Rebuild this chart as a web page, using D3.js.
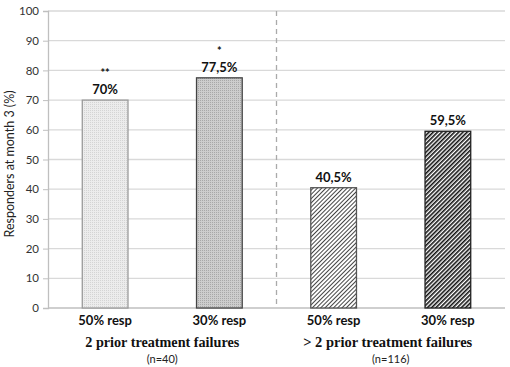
<!DOCTYPE html>
<html><head><meta charset="utf-8">
<script src="https://cdn.jsdelivr.net/npm/d3@7"></script>
<style>body{margin:0;background:#fff}</style>
</head><body>
<svg id="c" width="510" height="367"></svg>
<script>
const categories = ["50% resp", "30% resp", "50% resp", "30% resp"];
const values = [70, 77.5, 40.5, 59.5];
const valueLabels = ["70%", "77,5%", "40,5%", "59,5%"];
const stars = ["**", "*", "", ""];
const groups = ["2 prior treatment failures", ">  2 prior treatment failures"];
const groupN = ["(n=40)", "(n=116)"];
const yTicks = [0,10,20,30,40,50,60,70,80,90,100];

const svg = d3.select("#c");
const defs = svg.append("defs");
function dotPattern(id, bg, fg){
  const p = defs.append("pattern").attr("id", id).attr("patternUnits","userSpaceOnUse").attr("width",2).attr("height",2);
  p.append("rect").attr("width",2).attr("height",2).attr("fill",bg);
  p.append("rect").attr("width",1).attr("height",1).attr("fill",fg);
}
dotPattern("p0", "#ececec", "#d4d4d4");
dotPattern("p1", "#cdcdcd", "#a8a8a8");
function hatch(id, sp, w, col){
  const p = defs.append("pattern").attr("id", id).attr("patternUnits","userSpaceOnUse")
    .attr("width",sp).attr("height",sp).attr("patternTransform","rotate(45)");
  p.append("rect").attr("width",sp).attr("height",sp).attr("fill","#fff");
  p.append("rect").attr("width",w).attr("height",sp).attr("fill",col);
}
hatch("p2", 3, 1, "#444");
hatch("p3", 3, 1.6, "#111");
const fills = ["url(#p0)","url(#p1)","url(#p2)","url(#p3)"];
const strokes = ["#9a9a9a","#444","#555","#222"];

const x0 = 48, x1 = 505, yTop = 11, yBot = 308;
const x = d3.scaleBand().domain(d3.range(categories.length)).range([x0, x1]).paddingInner(0.6).paddingOuter(0.3);
const y = d3.scaleLinear().domain([0,100]).range([yBot, yTop]);

svg.append("g").selectAll("line").data(yTicks.filter(d=>d>0)).join("line")
  .attr("x1", x0).attr("x2", x1).attr("y1", d=>y(d)).attr("y2", d=>y(d))
  .attr("stroke","#d9d9d9").attr("stroke-width",1.3);

const ya = svg.append("g").attr("transform",`translate(${x0},0)`)
  .call(d3.axisLeft(y).tickValues(yTicks).tickSize(5).tickPadding(4));
ya.select(".domain").attr("stroke","#bfbfbf").attr("stroke-width",1.3);
ya.selectAll(".tick line").attr("stroke","#bfbfbf");
ya.selectAll("text").attr("font-family","Lato, 'Open Sans', sans-serif").attr("font-size",11.5).attr("fill","#333");
svg.append("line").attr("x1",x0).attr("x2",x1).attr("y1",y(0)).attr("y2",y(0)).attr("stroke","#bfbfbf").attr("stroke-width",1.3);

const sepX = (x(1)+x.bandwidth()+x(2))/2;
svg.append("line").attr("x1",sepX).attr("x2",sepX).attr("y1",y(100)).attr("y2",y(0))
  .attr("stroke","#aaa").attr("stroke-width",1.3).attr("stroke-dasharray","5,4");

svg.append("g").selectAll("rect").data(values).join("rect")
  .attr("x",(d,i)=>x(i)).attr("width",x.bandwidth())
  .attr("y",d=>y(d)).attr("height",d=>y(0)-y(d))
  .attr("fill",(d,i)=>fills[i]).attr("stroke",(d,i)=>strokes[i]).attr("stroke-width",1.3);

svg.append("g").selectAll("text").data(values).join("text")
  .attr("x",(d,i)=>x(i)+x.bandwidth()/2).attr("y",d=>y(d)-6)
  .attr("text-anchor","middle").attr("font-family","Lato, sans-serif").attr("font-weight","bold")
  .attr("font-size",13).attr("fill","#111").text((d,i)=>valueLabels[i]);
svg.append("g").selectAll("text").data(values).join("text")
  .attr("x",(d,i)=>x(i)+x.bandwidth()/2).attr("y",d=>y(d)-23)
  .attr("text-anchor","middle").attr("font-family","Lato, sans-serif").attr("font-weight","bold")
  .attr("font-size",11).attr("fill","#111").text((d,i)=>stars[i]);

svg.append("g").selectAll("text").data(categories).join("text")
  .attr("x",(d,i)=>x(i)+x.bandwidth()/2).attr("y",325)
  .attr("text-anchor","middle").attr("font-family","Lato, sans-serif").attr("font-weight","bold")
  .attr("font-size",13).attr("fill","#111").text(d=>d);

const gx = [ (x(0)+x(1)+x.bandwidth())/2, (x(2)+x(3)+x.bandwidth())/2 - 3 ];
const gw = [154, 169];
svg.append("g").selectAll("text").data(groups).join("text")
  .attr("x",(d,i)=>gx[i]).attr("y",347)
  .attr("text-anchor","middle").attr("font-family","'Liberation Serif', serif").attr("font-weight","bold")
  .attr("font-size",15.5).attr("textLength",(d,i)=>gw[i]).attr("lengthAdjust","spacingAndGlyphs")
  .attr("fill","#111").text(d=>d);
svg.append("g").selectAll("text").data(groupN).join("text")
  .attr("x",(d,i)=>gx[i]+ (i===0?0:3)).attr("y",363)
  .attr("text-anchor","middle").attr("font-family","Lato, sans-serif")
  .attr("font-size",11).attr("fill","#222").text(d=>d);

svg.append("text").attr("transform","translate(14,164) rotate(-90)")
  .attr("text-anchor","middle").attr("font-family","Lato, sans-serif")
  .attr("font-size",12.5).attr("fill","#222").text("Responders at month 3 (%)");
</script>
</body></html>
